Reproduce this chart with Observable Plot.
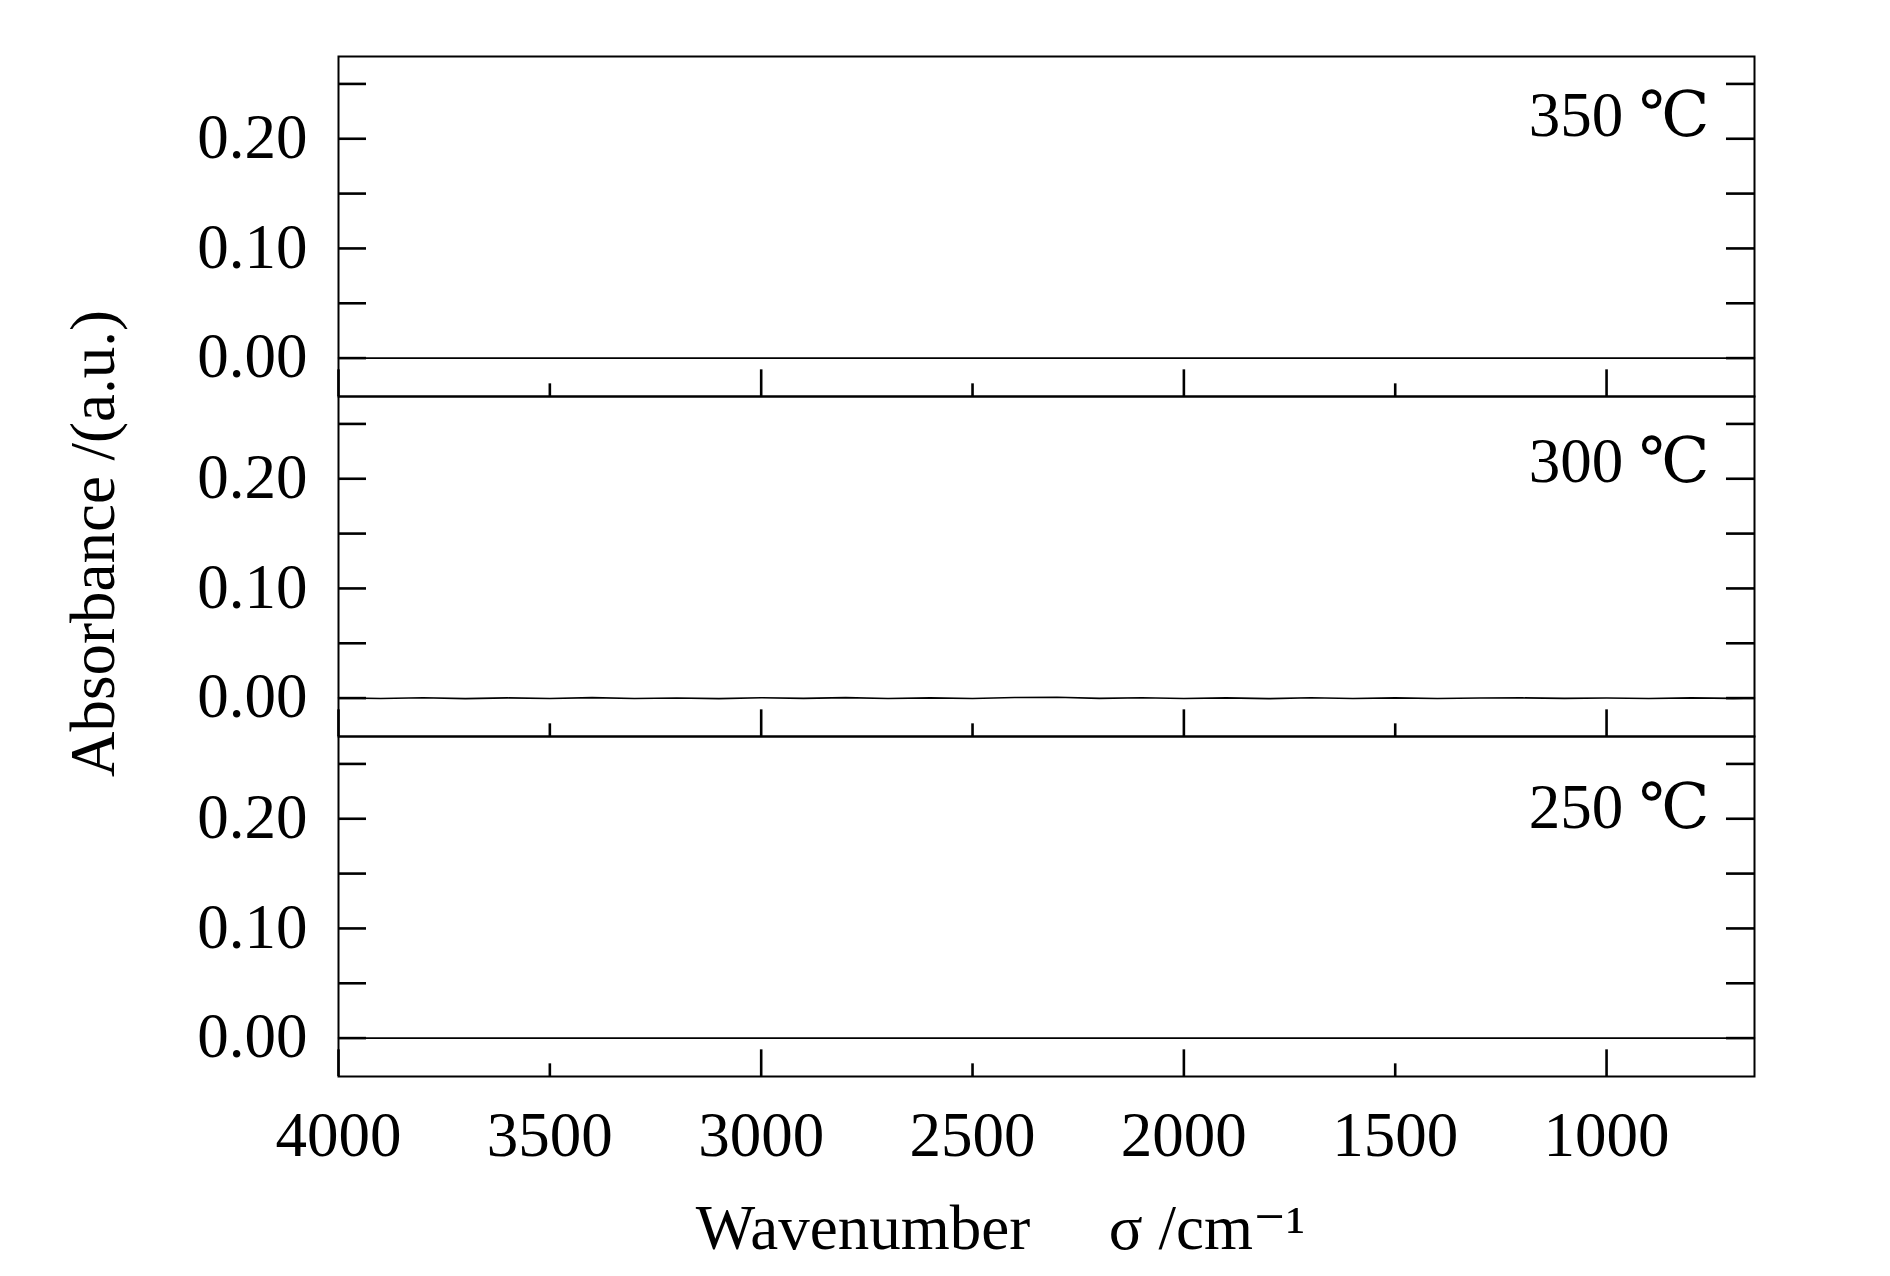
<!DOCTYPE html>
<html>
<head>
<meta charset="utf-8">
<script src="https://cdn.jsdelivr.net/npm/d3@7"></script>
<script src="https://cdn.jsdelivr.net/npm/@observablehq/plot@0.6"></script>
<style>
  html, body { margin: 0; padding: 0; background: #fff; }
  #chart svg { display: block; }
</style>
</head>
<body>
<div id="chart"></div>
<script>
// ---- data ----
const temps = ["350", "300", "250"];
const panelLabels = ["350 ℃", "300 ℃", "250 ℃"];
const wavenumbers = [4000, 3900, 3800, 3700, 3600, 3500, 3400, 3300, 3200, 3100,
                     3000, 2900, 2800, 2700, 2600, 2500, 2400, 2300, 2200, 2100,
                     2000, 1900, 1800, 1700, 1600, 1500, 1400, 1300, 1200, 1100,
                     1000, 900, 800, 700, 650];
const abs350 = [0, 0, 0, 0, 0, 0, 0, 0, 0, 0,
                0, 0, 0, 0, 0, 0, 0, 0, 0, 0,
                0, 0, 0, 0, 0, 0, 0, 0, 0, 0,
                0, 0, 0, 0, 0];
const abs300 = [0.0002, -0.0004, 0.0003, -0.0005, 0.0002, -0.0003, 0.0004, -0.0004, 0.0001, -0.0005,
                0.0003, -0.0002, 0.0004, -0.0003, 0.0002, -0.0004, 0.0006, 0.0008, -0.0002, 0.0003,
                -0.0004, 0.0002, -0.0005, 0.0003, -0.0004, 0.0002, -0.0003, 0.0001, 0.0002, -0.0002,
                0.0001, -0.0003, 0.0002, -0.0002, 0.0001];
const abs250 = [0, 0, 0, 0, 0, 0, 0, 0, 0, 0,
                0, 0, 0, 0, 0, 0, 0, 0, 0, 0,
                0, 0, 0, 0, 0, 0, 0, 0, 0, 0,
                0, 0, 0, 0, 0];
const yTickValues = [0, 0.05, 0.10, 0.15, 0.20, 0.25];
const yTickLabels = [0, 0.10, 0.20];
const xMajorTicks = [4000, 3000, 2000, 1000];
const xMinorTicks = [3500, 2500, 1500];
const xTickLabels = [4000, 3500, 3000, 2500, 2000, 1500, 1000];
const yTitle = "Absorbance /(a.u.)";
const xTitle = "Wavenumber\u00a0\u00a0\u00a0\u00a0\u00a0σ /cm⁻¹";

// ---- table ----
const series = [abs350, abs300, abs250];
const rows = [];
temps.forEach((t, i) => {
  wavenumbers.forEach((w, j) => rows.push({temp: t, wn: w, abs: series[i][j]}));
});

// ---- layout ----
const W = 1890, H = 1276, mL = 338, mR = 136, mT = 55, mB = 200;
const frameW = W - mL - mR;
const facetH = (H - mT - mB) / 3;
const labelDy = [79, 85, 91];
const serif = '"Liberation Serif", "Times New Roman", "DejaVu Serif", serif';

const chart = Plot.plot({
  width: W, height: H,
  marginLeft: mL, marginRight: mR, marginTop: mT, marginBottom: mB,
  style: {fontFamily: serif, fontSize: "63px", color: "black", background: "white", overflow: "visible"},
  x: {domain: [4000, 650]},
  y: {domain: [-0.035, 0.275]},
  fy: {domain: temps, axis: null, padding: 0},
  marks: [
    Plot.lineY(rows, {x: "wn", y: "abs", fy: "temp", stroke: "black", strokeWidth: 1.6}),
    Plot.tickY(yTickValues, {y: d => d, insetRight: frameW - 28, stroke: "black", strokeWidth: 2.6}),
    Plot.tickY(yTickValues, {y: d => d, insetLeft: frameW - 28, stroke: "black", strokeWidth: 2.6}),
    Plot.tickX(xMajorTicks, {x: d => d, insetTop: facetH - 27, stroke: "black", strokeWidth: 2.6}),
    Plot.tickX(xMinorTicks, {x: d => d, insetTop: facetH - 13, stroke: "black", strokeWidth: 2.6}),
    Plot.frame({stroke: "black", strokeWidth: 2}),
    Plot.axisY({ticks: yTickLabels, anchor: "left", tickSize: 0, tickPadding: 31, tickFormat: ".2f", label: null, dy: -1}),
    Plot.axisX({ticks: xTickLabels, anchor: "bottom", tickSize: 0, tickPadding: 35, tickFormat: "d", label: null}),
    ...temps.map((t, i) => Plot.text([panelLabels[i]], {
      text: d => d, fy: [t], frameAnchor: "top-right", textAnchor: "end", lineAnchor: "bottom",
      dx: -45, dy: labelDy[i], fontFamily: serif
    })),
    Plot.text([yTitle], {text: d => d, facet: "super", frameAnchor: "left", rotate: -90,
      textAnchor: "middle", lineAnchor: "bottom", dx: -225, dy: -23}),
    Plot.text([xTitle], {text: d => d, facet: "super", frameAnchor: "bottom",
      textAnchor: "middle", lineAnchor: "bottom", dx: -46, dy: 172})
  ]
});
document.getElementById("chart").append(chart);
</script>
</body>
</html>
